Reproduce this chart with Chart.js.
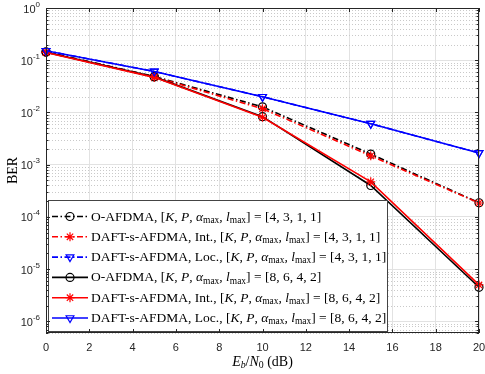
<!DOCTYPE html>
<html>
<head>
<meta charset="utf-8">
<script src="https://cdn.jsdelivr.net/npm/chart.js@4.4.0/dist/chart.umd.min.js"></script>
<style>
  html, body { margin: 0; padding: 0; background: #fff; }
  canvas { display: block; }
</style>
</head>
<body>
<canvas id="ber-chart" width="485" height="374"></canvas>
<script>
// Eb/N0 points (dB)
const snrDb = [0, 5, 10, 15, 20];

// BER
const berOafdmaSmall = [0.145, 0.049, 0.0128, 0.0016, 1.87e-4];
const berIntSmall    = [0.143, 0.048, 0.0118, 0.00148, 1.85e-4];
const berLocSmall    = [0.152, 0.061, 0.0200, 0.0061, 0.00168];
const berOafdmaLarge = [0.142, 0.048, 0.0083, 4.0e-4, 4.5e-6];
const berIntLarge    = [0.141, 0.047, 0.0081, 4.7e-4, 5.0e-6];
const berLocLarge    = [0.152, 0.061, 0.0200, 0.0061, 0.00168];

const legendNames = ['O-AFDMA, ', 'DAFT-s-AFDMA, Int., ', 'DAFT-s-AFDMA, Loc., ',
                     'O-AFDMA, ', 'DAFT-s-AFDMA, Int., ', 'DAFT-s-AFDMA, Loc., '];
const legendParams = ['4, 3, 1, 1', '4, 3, 1, 1', '4, 3, 1, 1',
                      '8, 6, 4, 2', '8, 6, 4, 2', '8, 6, 4, 2'];

const xTickValues = [0, 2, 4, 6, 8, 10, 12, 14, 16, 18, 20];
const yTickExps = [0, -1, -2, -3, -4, -5, -6];

const dashDot = [6, 2.5, 1.5, 2.5];
const axisColor = '#262626';

const series = [
  { data: berOafdmaSmall, color: '#000000', marker: 'circle', dash: dashDot },
  { data: berIntSmall, color: '#ff0000', marker: 'star', dash: dashDot },
  { data: berLocSmall, color: '#0000ff', marker: 'triangle', dash: dashDot },
  { data: berOafdmaLarge, color: '#000000', marker: 'circle', dash: [] },
  { data: berIntLarge, color: '#ff0000', marker: 'star', dash: [] },
  { data: berLocLarge, color: '#0000ff', marker: 'triangle', dash: [] }
];

const datasets = series.map((s, i) => ({
  label: legendNames[i] + legendParams[i],
  data: snrDb.map((x, j) => ({ x: x, y: s.data[j] })),
  borderColor: s.color,
  borderWidth: 1.6,
  borderDash: s.dash,
  backgroundColor: 'rgba(0,0,0,0)',
  pointStyle: s.marker,
  pointRotation: s.marker === 'triangle' ? 180 : 0,
  pointRadius: s.marker === 'circle' ? 4 : 4.5,
  pointBorderColor: s.color,
  pointBackgroundColor: 'rgba(0,0,0,0)',
  pointBorderWidth: 1.2,
  tension: 0,
  clip: false,
  order: series.length - i
}));

function drawMarker(ctx, style, x, y, color) {
  ctx.save();
  ctx.strokeStyle = color;
  ctx.lineWidth = 1.2;
  ctx.setLineDash([]);
  ctx.beginPath();
  if (style === 'circle') {
    ctx.arc(x, y, 4, 0, Math.PI * 2);
  } else if (style === 'triangle') {
    const r = 4.5;
    ctx.moveTo(x, y + r);
    ctx.lineTo(x - r * 0.866, y - r / 2);
    ctx.lineTo(x + r * 0.866, y - r / 2);
    ctx.closePath();
  } else {
    const r = 4.5;
    for (let a = 0; a < 4; a++) {
      const ang = a * Math.PI / 4;
      ctx.moveTo(x - Math.cos(ang) * r, y - Math.sin(ang) * r);
      ctx.lineTo(x + Math.cos(ang) * r, y + Math.sin(ang) * r);
    }
  }
  ctx.stroke();
  ctx.restore();
}

// draws a list of text pieces one after another
function drawRich(ctx, parts, x, y, size) {
  let cx = x;
  parts.forEach(p => {
    const fs = p.sub ? size * 0.7 : size;
    ctx.font = (p.it ? 'italic ' : '') + fs + 'px "Liberation Serif"';
    ctx.fillText(p.t, cx, y + (p.sub ? size * 0.25 : 0));
    cx += ctx.measureText(p.t).width;
  });
  return cx - x;
}

function legendParts(name, params) {
  return [
    { t: name + '[' }, { t: 'K', it: 1 }, { t: ', ' }, { t: 'P', it: 1 }, { t: ', ' },
    { t: 'α', it: 1 }, { t: 'max', sub: 1 }, { t: ', ' },
    { t: 'l', it: 1 }, { t: 'max', sub: 1 }, { t: '] = [' + params + ']' }
  ];
}

const framePlugin = {
  id: 'frame',
  beforeDatasetsDraw(chart) {
    const { ctx, chartArea: a, scales: { y } } = chart;
    // dotted minor grid on the log axis
    ctx.save();
    ctx.strokeStyle = '#c9c9c9';
    ctx.lineWidth = 1;
    ctx.setLineDash([1, 2]);
    for (let e = -7; e < 0; e++) {
      for (let m = 2; m <= 9; m++) {
        const v = m * Math.pow(10, e);
        if (v < y.min || v > y.max) continue;
        const py = Math.round(y.getPixelForValue(v)) + 0.5;
        ctx.beginPath();
        ctx.moveTo(a.left, py);
        ctx.lineTo(a.right, py);
        ctx.stroke();
      }
    }
    ctx.restore();
  },
  afterDatasetsDraw(chart) {
    const { ctx, chartArea: a, scales: { x, y } } = chart;
    ctx.save();

    // legend box
    const lx = 48, ly = 200, lw = 339, lh = 131;
    ctx.fillStyle = '#fff';
    ctx.fillRect(lx, ly, lw, lh);
    ctx.strokeStyle = '#444';
    ctx.lineWidth = 1;
    ctx.strokeRect(lx + 0.5, ly + 0.5, lw, lh);
    ctx.textBaseline = 'middle';
    ctx.textAlign = 'left';
    series.forEach((s, i) => {
      const ry = 216.5 + i * 20.3;
      ctx.strokeStyle = s.color;
      ctx.lineWidth = 1.6;
      ctx.setLineDash(s.dash);
      ctx.beginPath();
      ctx.moveTo(52, ry);
      ctx.lineTo(88, ry);
      ctx.stroke();
      ctx.setLineDash([]);
      drawMarker(ctx, s.marker, 70, ry, s.color);
      ctx.fillStyle = '#000';
      drawRich(ctx, legendParts(legendNames[i], legendParams[i]), 91, ry + 0.5, 13.5);
    });

    // axes box
    ctx.strokeStyle = axisColor;
    ctx.lineWidth = 1;
    ctx.strokeRect(a.left + 0.5, a.top + 0.5, a.right - a.left - 1, a.bottom - a.top - 1);

    // tick marks (inward, both sides)
    ctx.beginPath();
    xTickValues.forEach(v => {
      const px = Math.round(x.getPixelForValue(v)) + 0.5;
      ctx.moveTo(px, a.bottom); ctx.lineTo(px, a.bottom - 4);
      ctx.moveTo(px, a.top); ctx.lineTo(px, a.top + 4);
    });
    for (let e = -7; e <= 0; e++) {
      for (let m = 1; m <= 9; m++) {
        const v = m * Math.pow(10, e);
        if (v < y.min || v > y.max) continue;
        const len = m === 1 ? 4 : 2.5;
        const py = Math.round(y.getPixelForValue(v)) + 0.5;
        ctx.moveTo(a.left, py); ctx.lineTo(a.left + len, py);
        ctx.moveTo(a.right, py); ctx.lineTo(a.right - len, py);
      }
    }
    ctx.stroke();

    // tick labels
    ctx.fillStyle = axisColor;
    ctx.font = '11px "Liberation Sans"';
    ctx.textAlign = 'center';
    ctx.textBaseline = 'middle';
    xTickValues.forEach(v => ctx.fillText(String(v), x.getPixelForValue(v), 348));

    ctx.textAlign = 'left';
    ctx.textBaseline = 'alphabetic';
    yTickExps.forEach(e => {
      const py = y.getPixelForValue(Math.pow(10, e));
      const sup = String(e);
      ctx.font = '8px "Liberation Sans"';
      const ws = ctx.measureText(sup).width;
      ctx.font = '11px "Liberation Sans"';
      const wb = ctx.measureText('10').width;
      const x0 = 40 - ws - wb;
      ctx.fillText('10', x0, py + 4.5);
      ctx.font = '8px "Liberation Sans"';
      ctx.fillText(sup, x0 + wb, py - 1.5);
    });

    // axis titles
    ctx.fillStyle = '#000';
    ctx.save();
    ctx.translate(13, (a.top + a.bottom) / 2);
    ctx.rotate(-Math.PI / 2);
    ctx.textAlign = 'center';
    ctx.textBaseline = 'middle';
    ctx.font = '14px "Liberation Serif"';
    ctx.fillText('BER', 0, 0);
    ctx.restore();

    ctx.textBaseline = 'middle';
    const titleParts = [
      { t: 'E', it: 1 }, { t: 'b', it: 1, sub: 1 }, { t: '/' },
      { t: 'N', it: 1 }, { t: '0', sub: 1 }, { t: ' (dB)' }
    ];
    ctx.globalAlpha = 0;
    const tw = drawRich(ctx, titleParts, 0, 0, 14);
    ctx.globalAlpha = 1;
    drawRich(ctx, titleParts, (a.left + a.right) / 2 - tw / 2, 362, 14);

    ctx.restore();
  }
};

new Chart(document.getElementById('ber-chart'), {
  type: 'line',
  data: { datasets: datasets },
  options: {
    responsive: false,
    animation: false,
    devicePixelRatio: 1,
    layout: { padding: { left: 46, top: 8, right: 6, bottom: 41 } },
    plugins: { legend: { display: false }, tooltip: { enabled: false } },
    scales: {
      x: {
        type: 'linear',
        min: 0,
        max: 20,
        ticks: { display: false },
        afterBuildTicks: s => { s.ticks = xTickValues.map(v => ({ value: v })); },
        afterFit: s => { s.height = 0; },
        grid: { color: '#e2e2e2', drawTicks: false, lineWidth: 1 },
        border: { display: false }
      },
      y: {
        type: 'logarithmic',
        min: 6e-7,
        max: 1,
        ticks: { display: false },
        afterBuildTicks: s => { s.ticks = yTickExps.map(e => ({ value: Math.pow(10, e) })); },
        afterFit: s => { s.width = 0; },
        grid: { color: '#e2e2e2', drawTicks: false, lineWidth: 1 },
        border: { display: false }
      }
    }
  },
  plugins: [framePlugin]
});
</script>
</body>
</html>
